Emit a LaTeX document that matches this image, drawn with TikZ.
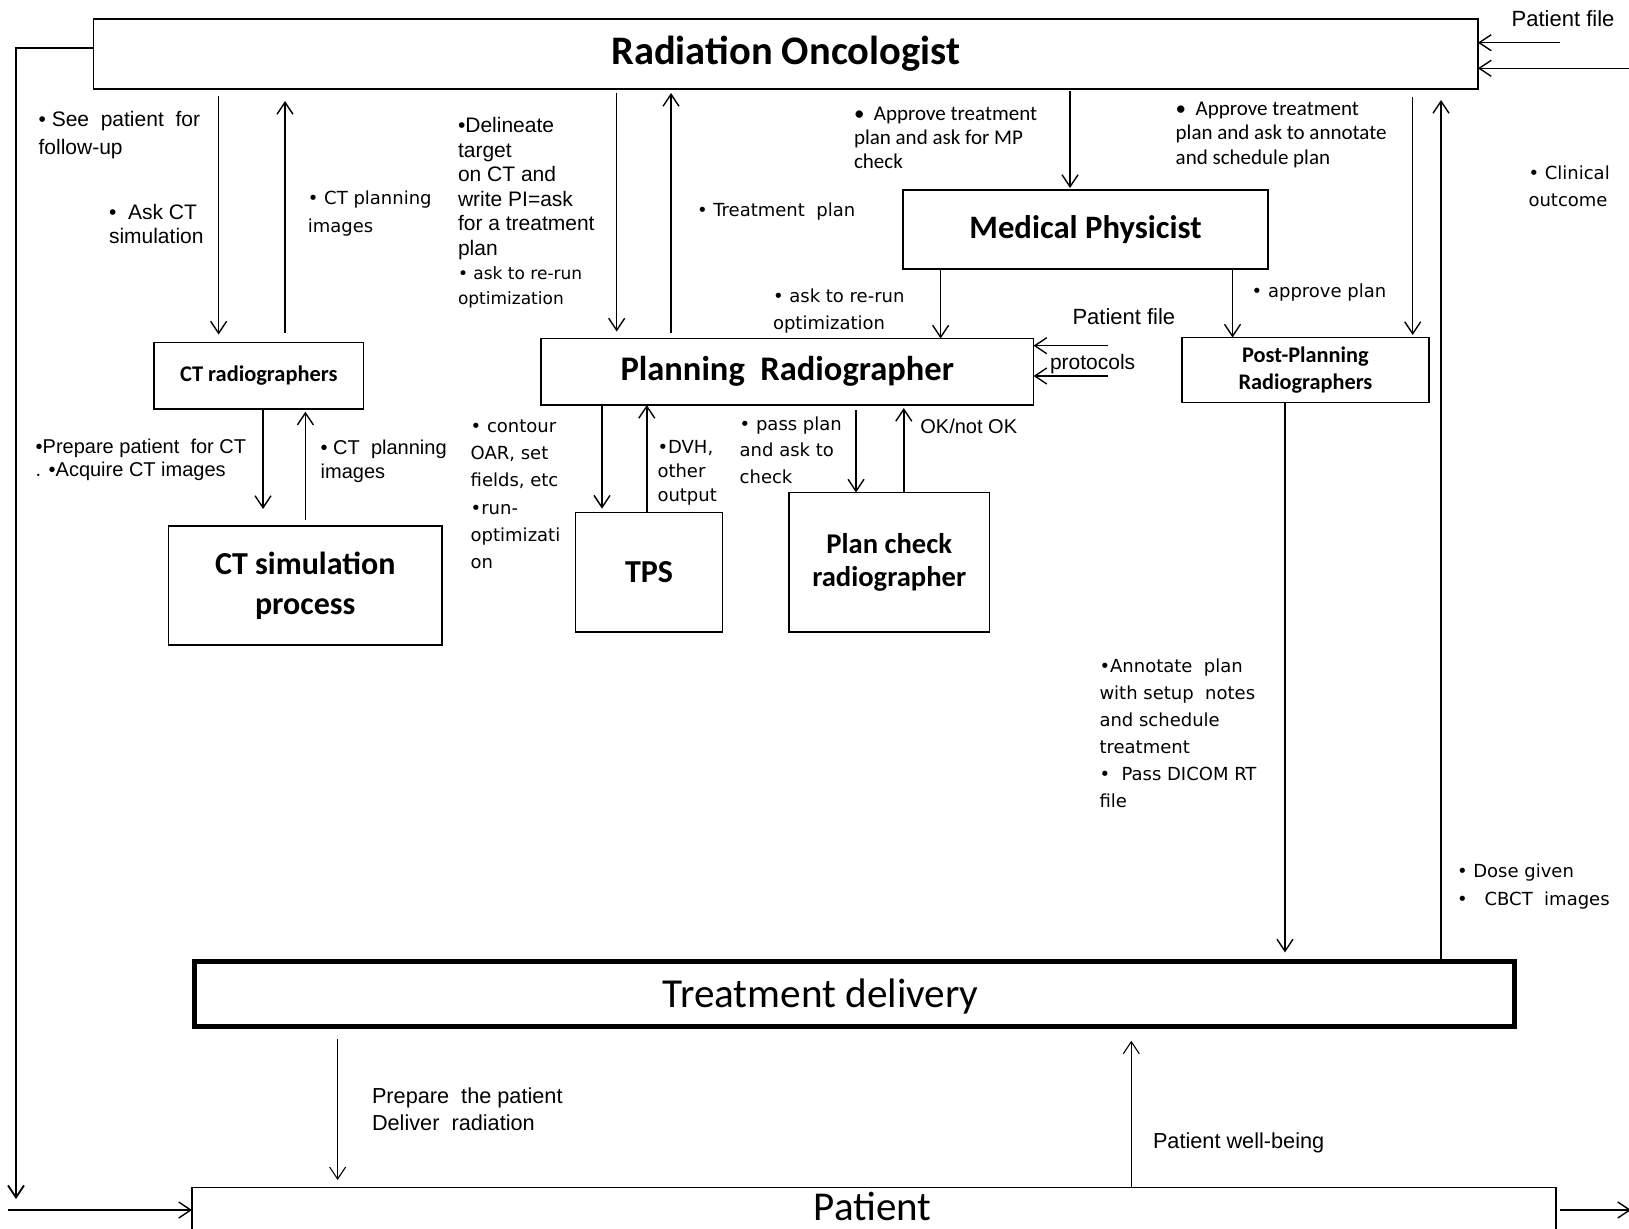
\documentclass[tikz,border=0pt]{standalone}
\usepackage{fontspec}
\setmainfont{Carlito}
\newfontfamily\arialf{Liberation Sans}
\newfontfamily\tahf{DejaVu Sans}
\usetikzlibrary{arrows.meta}
\newcommand\fsz[2]{\fontsize{#1}{#2}\selectfont}

\begin{document}
\begin{tikzpicture}[x=1pt,y=-1pt,
  every node/.style={inner sep=0pt, outer sep=0pt},
  box/.style={draw, line width=1.6pt, align=center},
  conn/.style={line width=1.4pt, -{Straight Barb[length=12pt,width=16pt]}},
  thin conn/.style={line width=1.1pt, -{Straight Barb[length=12pt,width=16pt]}},
  lbl/.style={anchor=north west, align=left},
  slbl/.style={anchor=west},
  ta/.style={font=\tahf\fsz{18}{27}}
]
\clip (0,0) rectangle (1629,1228);
\fill[white] (0,0) rectangle (1629,1228);

% ---------- boxes ----------
\node[box, minimum width=1384.5pt, minimum height=70pt, font=\bfseries\fsz{40.5}{44}] (ro) at (785.75,54) {Radiation Oncologist};
\node[box, minimum width=365pt, minimum height=79pt, font=\bfseries\fsz{32.7}{38}] (mp) at (1085.5,229.5) {Medical Physicist};
\node[box, minimum width=492.5pt, minimum height=66.5pt, font=\bfseries\fsz{34.5}{38}] (pr) at (787.25,371.75) {Planning\ \ Radiographer};
\node[box, minimum width=209.6pt, minimum height=66.5pt, font=\bfseries\fsz{22.4}{26}] (ctr) at (258.8,375.75) {CT radiographers};
\node[box, minimum width=273.5pt, minimum height=119pt, font=\bfseries\fsz{32}{40}] (cts) at (305.25,585.5) {CT simulation\\process};
\node[box, minimum width=147pt, minimum height=119.3pt, font=\bfseries\fsz{32}{38}] (tps) at (649,572.3) {TPS};
\node[box, minimum width=200.8pt, minimum height=139.5pt, font=\bfseries\fsz{28.6}{32.5}] (pc) at (889.2,562.25) {Plan check\\radiographer};
\node[box, minimum width=246.8pt, minimum height=64.8pt, font=\bfseries\fsz{22.3}{26.7}] (pp) at (1305.4,369.9) {Post-Planning\\Radiographers};
\node[draw, line width=5pt, minimum width=1319.8pt, minimum height=65.3pt] (td) at (854.6,994.1) {};
\node[font=\fsz{41.2}{44}] (tdtext) at ([xshift=-34pt,yshift=-2.6pt]td.center) {Treatment delivery};
\node[box, minimum width=1364.2pt, minimum height=46pt] (pat) at (874.1,1210.5) {};
\node[font=\fsz{41}{44}] (pattext) at ([xshift=-1.5pt,yshift=3.8pt]pat.center) {Patient};

% ---------- free ends ----------
\coordinate (loopend) at (16,1199);
\coordinate (inleft) at (8,1210);
\coordinate (outright) at (1631,1210);
\coordinate (pfin) at (1560,42.7);
\coordinate (rin) at (1645,68.3);
\coordinate (pf1) at (1108,345.7);
\coordinate (pf2) at (1108,376);

% ---------- connectors ----------
\draw[line width=1.8pt, -{Straight Barb[length=12pt,width=16pt]}] (ro.west |- 0,47.7) -| (loopend);
\draw[conn] (inleft) -- (pat.west |- inleft);
\draw[conn, shorten <=4pt] (pat.east |- outright) -- (outright);
\draw[conn] (pfin) -- (ro.east |- pfin);
\draw[conn] (rin) -- (ro.east |- rin);

\draw[conn, shorten <=7pt, shorten >=8pt] (ro.south -| 218.6,0) -- (ctr.north -| 218.6,0);
\draw[conn, shorten <=10pt, shorten >=12pt] (ctr.north -| 285,0) -- (ro.south -| 285,0);
\draw[conn, shorten <=4pt, shorten >=7pt] (ro.south -| 616.7,0) -- (pr.north -| 616.7,0);
\draw[conn, shorten <=6pt, shorten >=4pt] (pr.north -| 671,0) -- (ro.south -| 671,0);
\draw[conn, shorten <=2pt, shorten >=2pt] (ro.south -| 1070,0) -- (mp.north -| 1070,0);
\draw[conn] (mp.south -| 940.6,0) -- (pr.north -| 940.6,0);
\draw[conn] (mp.south -| 1232.5,0) -- (pp.north -| 1232.5,0);
\draw[conn, shorten <=7.7pt, shorten >=2.5pt] (ro.south -| 1412.7,0) -- (pp.north -| 1412.7,0);
\draw[conn, shorten >=11pt] (td.north -| 1441,0) -- (ro.south -| 1441,0);
\draw[conn, shorten >=9pt] (pp.south -| 1285,0) -- (td.north -| 1285,0);
\draw[conn] (pf1) -- (pr.east |- pf1);
\draw[conn] (pf2) -- (pr.east |- pf2);

\draw[conn, shorten >=17pt] (ctr.south -| 263,0) -- (cts.north -| 263,0);
\draw[conn, shorten <=6pt, shorten >=2.7pt] (cts.north -| 305.4,0) -- (ctr.south -| 305.4,0);
\draw[conn, shorten >=4pt] (pr.south -| 602,0) -- (tps.north -| 602,0);
\draw[conn] (tps.north -| 646.8,0) -- (pr.south -| 646.8,0);
\draw[conn, shorten <=5pt] (pr.south -| 856,0) -- (pc.north -| 856,0);
\draw[conn, shorten >=3pt] (pc.north -| 903.8,0) -- (pr.south -| 903.8,0);

\draw[thin conn, shorten <=12.5pt, shorten >=7.5pt] (td.south -| 337.6,0) -- (pat.north -| 337.6,0);
\draw[thin conn, shorten >=14pt] (pat.north -| 1131.3,0) -- (td.south -| 1131.3,0);

% ---------- labels ----------
\node[lbl, font=\arialf\fsz{21}{27.5}] (lsee) at (38.6,111.6) {• See\ \ patient\ \ for\\follow-up};
\node[lbl, font=\arialf\fsz{21}{24}] (lask) at (109,204.3) {•\ \ Ask CT\\simulation};
\node[lbl, font=\tahf\fsz{18}{27.7}] (lctp1) at (307.9,191) {• CT planning\\images};
\node[lbl, font=\arialf\fsz{21}{24.5}] (ldel) at (458,117.6) {•Delineate\\target\\on CT and\\write PI=ask\\for a treatment\\plan\\{\tahf\fsz{17}{24.5}• ask to re-run}\\{\tahf\fsz{17}{24.5}optimization}};
\node[slbl, font=\tahf\fsz{18}{27}] (ltp) at (697,211.5) {• Treatment\ \ plan};
\node[lbl, font=\fsz{21}{24}] (lapmp) at (854,106.6) {•\ \ Approve treatment\\plan and ask for MP\\check};
\node[lbl, font=\fsz{21}{24.5}] (lapan) at (1175.7,101.6) {•\ \ Approve treatment\\plan and ask to annotate\\and schedule plan};
\node[lbl, ta] (lclin) at (1528.5,165.5) {• Clinical\\outcome};
\node[lbl, font=\tahf\fsz{18}{26.7}] (lrerun) at (773,288.8) {• ask to re-run\\optimization};
\node[slbl, font=\arialf\fsz{22}{24}] (lpf) at (1072.5,316.7) {Patient file};
\node[slbl, font=\arialf\fsz{21}{24}] (lprot) at (1050,364) {protocols};
\node[slbl, ta] (lappr) at (1251.7,293) {• approve plan};
\node[slbl, font=\arialf\fsz{22}{24}] (lpftop) at (1511.7,18.3) {Patient file};

\node[lbl, font=\arialf\fsz{20}{23.3}] (lprep) at (35.7,438.7) {•Prepare patient\ \ for CT\\. •Acquire CT images};
\node[lbl, font=\arialf\fsz{20}{23.7}] (lctp2) at (320.7,440) {• CT\ \ planning\\images};
\node[lbl, font=\tahf\fsz{18}{27.3}] (lcont) at (470.7,419.5) {• contour\\OAR, set\\fields, etc\\•run-\\optimizati\\on};
\node[lbl, font=\tahf\fsz{18}{24}] (ldvh) at (657.5,440) {•DVH,\\other\\output};
\node[lbl, font=\tahf\fsz{18}{26.5}] (lpass) at (739.7,416.8) {• pass plan\\and ask to\\check};
\node[slbl, font=\arialf\fsz{20}{24}] (lok) at (920.4,426.7) {OK/not OK};

\node[lbl, font=\tahf\fsz{18}{27.1}] (lann) at (1099.5,658.8) {•Annotate\ \ plan\\with setup\ \ notes\\and schedule\\treatment\\•\ \ Pass DICOM RT\\file};
\node[lbl, font=\tahf\fsz{18}{28}] (ldose) at (1457,864.3) {• Dose given\\•\hspace{17pt}CBCT\ \ images};

\node[lbl, font=\arialf\fsz{21.7}{27.3}] (lprep2) at (372,1087.6) {Prepare\ \ the patient\\Deliver\ \ radiation};
\node[slbl, font=\arialf\fsz{21.7}{24}] (lwell) at (1153,1143.3) {Patient well-being};
\end{tikzpicture}
\end{document}
